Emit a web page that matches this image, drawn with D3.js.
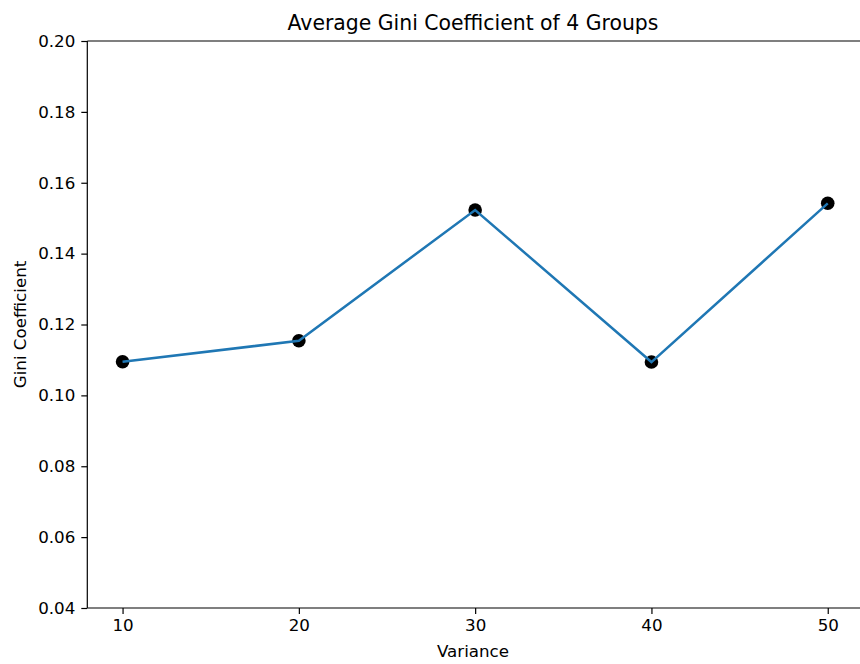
<!DOCTYPE html>
<html>
<head>
<meta charset="utf-8">
<script src="https://cdn.jsdelivr.net/npm/d3@7"></script>
<style>
body { margin: 0; background: #fff; }
text { font-family: "DejaVu Sans", sans-serif; }
</style>
</head>
<body>
<svg width="860" height="664"></svg>
<script>
var variance = [10, 20, 30, 40, 50];
var gini = [0.1095, 0.1154, 0.1523, 0.1094, 0.1542];
var xTicks = [10, 20, 30, 40, 50];
var yTicks = [0.04, 0.06, 0.08, 0.10, 0.12, 0.14, 0.16, 0.18, 0.20];

var svg = d3.select("svg");
var plotLeft = 87.3, plotRight = 863, plotTop = 41, plotBottom = 608;

var x = d3.scaleLinear().domain([8, 52]).range([plotLeft, plotRight]);
var y = d3.scaleLinear().domain([0.04, 0.20]).range([plotBottom, plotTop]);

var xAxis = svg.append("g")
    .attr("transform", "translate(0," + plotBottom + ")")
    .call(d3.axisBottom(x).tickValues(xTicks).tickSize(6).tickPadding(5).tickFormat(d3.format("d")));
var yAxis = svg.append("g")
    .attr("transform", "translate(" + plotLeft + ",0)")
    .call(d3.axisLeft(y).tickValues(yTicks).tickSize(6).tickPadding(6).tickFormat(d3.format(".2f")));

[xAxis, yAxis].forEach(function (g) {
    g.selectAll("text").style("font-size", "16.7px").attr("fill", "#000").style("font-family", "DejaVu Sans");
    g.selectAll("line").attr("stroke", "#000").attr("stroke-width", 1.2);
    g.select(".domain").attr("stroke", "#000").attr("stroke-width", 1.2).attr("d",
        g === xAxis ? "M" + plotLeft + ",0H" + plotRight : "M0," + plotBottom + "V" + plotTop);
});

// top spine
svg.append("line")
    .attr("x1", plotLeft).attr("x2", plotRight)
    .attr("y1", plotTop).attr("y2", plotTop)
    .attr("stroke", "#000").attr("stroke-width", 1.2);

svg.append("g")
    .selectAll("circle")
    .data(variance)
    .join("circle")
    .attr("cx", function (d) { return x(d); })
    .attr("cy", function (d, i) { return y(gini[i]); })
    .attr("r", 6.8)
    .attr("fill", "#000");

var line = d3.line()
    .x(function (d) { return x(d); })
    .y(function (d, i) { return y(gini[i]); });

svg.append("path")
    .datum(variance)
    .attr("d", line)
    .attr("fill", "none")
    .attr("stroke", "#1f77b4")
    .attr("stroke-width", 2.5);

svg.append("text")
    .attr("x", 473).attr("y", 30)
    .attr("text-anchor", "middle")
    .style("font-size", "20.4px")
    .text("Average Gini Coefficient of 4 Groups");

svg.append("text")
    .attr("x", 473).attr("y", 657)
    .attr("text-anchor", "middle")
    .style("font-size", "16.7px")
    .text("Variance");

svg.append("text")
    .attr("transform", "translate(26," + (plotTop + plotBottom) / 2 + ") rotate(-90)")
    .attr("text-anchor", "middle")
    .style("font-size", "16.7px")
    .text("Gini Coefficient");
</script>
</body>
</html>
